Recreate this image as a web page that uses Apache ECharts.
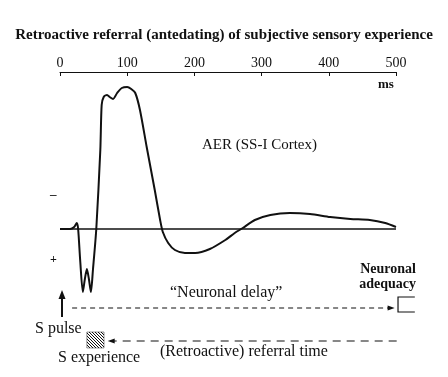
<!DOCTYPE html>
<html><head><meta charset="utf-8">
<script src="https://cdn.jsdelivr.net/npm/echarts@6/dist/echarts.min.js"></script>
<style>html,body{margin:0;padding:0;background:#fff}#c{width:448px;height:377px}</style>
</head><body><div id="c"></div>
<script>
// ---- data ----
const titleText = 'Retroactive referral (antedating) of subjective sensory experience';
const tickLabels = [0, 100, 200, 300, 400, 500];
// AER trace: time (ms) and amplitude (arbitrary units, negative-up)
const aerTime = [0, 15, 21, 25, 27, 30, 34, 37, 40, 43, 46, 49, 54, 60, 62, 65, 70, 74, 79, 85, 92, 100, 106, 112, 119, 129, 141, 149, 153, 161, 171, 186, 201, 223, 246, 260, 272, 290, 313, 342, 372, 402, 432, 461, 484, 500];
const aerAmp  = [0, 0, 2, 6, 0, -31, -63, -50, -40, -50, -63, -41, 0, 79, 124, 132, 134, 132, 130, 136, 141, 142, 140, 136, 119, 82, 39, 9, -3, -14, -21, -24, -24, -20, -11, -4, 1, 9, 14, 16, 15, 12, 10, 9, 6, 2];
const baselineTime = [0, 500];
// annotation times (ms)
const stimulusTime = 3;
const delayArrow = [18, 498];     // "Neuronal delay"
const referralArrow = [501, 71];  // retroactive referral
const adequacyBox = [503, 528];
const experienceBox = [40, 65.5];

const chart = echarts.init(document.getElementById('c'));
const FONT = '"Liberation Serif", "DejaVu Serif", serif';
const black = '#111';

const hatch = document.createElement('canvas');
hatch.width = 3; hatch.height = 3;
const hc = hatch.getContext('2d');
hc.fillStyle = '#fff'; hc.fillRect(0,0,3,3);
hc.fillStyle = '#111';
for (let i=0;i<3;i++) hc.fillRect(i,i,1,1);

const aerData = aerTime.map((t,i)=>[t, aerAmp[i]]);

chart.setOption({
  animation: false,
  backgroundColor: '#fff',
  title: {
    text: titleText, left: 'center', top: 23,
    textStyle: {fontFamily: FONT, fontSize: 15, fontWeight: 'bold', color: black}
  },
  grid: {left: 60, right: 52, top: 72, bottom: 5},
  xAxis: {
    type: 'value', position: 'top', min: 0, max: 500, interval: 100,
    axisLine: {show: true, onZero: false, lineStyle: {color: black, width: 1}},
    axisTick: {show: true, inside: true, length: 4, lineStyle: {color: black}},
    axisLabel: {margin: 2, fontFamily: FONT, fontSize: 14, color: black,
      formatter: v => tickLabels.includes(v) ? String(v) : ''},
    splitLine: {show: false}
  },
  yAxis: {type: 'value', min: -143, max: 157, show: false},
  series: [
    {
      type: 'line', data: baselineTime.map(t=>[t,0]), symbol: 'none',
      lineStyle: {color: black, width: 1.3}, silent: true
    },
    {
      type: 'line', data: aerData, symbol: 'none', smooth: 0.25,
      lineStyle: {color: black, width: 2}, silent: true
    }
  ]
});

const P = (x, y) => chart.convertToPixel({gridIndex: 0}, [x, y]);
function arrowHead(tip, dir, len, half) {
  const bx = tip[0] - dir[0]*len, by = tip[1] - dir[1]*len;
  const nx = -dir[1], ny = dir[0];
  return {type: 'polygon', silent: true,
    shape: {points: [tip, [bx + nx*half, by + ny*half], [bx - nx*half, by - ny*half]]},
    style: {fill: black}};
}
function seg(a, b, dash, w) {
  return {type: 'line', silent: true, shape: {x1: a[0], y1: a[1], x2: b[0], y2: b[1]},
    style: {stroke: black, lineWidth: w || 1.2, lineDash: dash || null}};
}

const g = [];
// S pulse arrow
const sp0 = P(stimulusTime, -88), sp1 = P(stimulusTime, -61);
g.push(seg(sp0, [sp1[0], sp1[1] + 6], null, 2));
g.push(arrowHead(sp1, [0, -1], 9, 3.5));
// Neuronal delay arrow
const d0 = P(delayArrow[0], -79), d1 = P(delayArrow[1], -79);
g.push(seg(d0, [d1[0] - 5, d1[1]], [5, 4], 1.2));
g.push(arrowHead(d1, [1, 0], 7, 2.5));
// Referral arrow (right to left)
const r0 = P(referralArrow[0], -112), r1 = P(referralArrow[1], -112);
g.push(seg(r0, [r1[0] + 5, r1[1]], [8, 6], 1.2));
g.push(arrowHead(r1, [-1, 0], 7, 2.5));
// Neuronal adequacy bracket
const a0 = P(adequacyBox[0], -68), a1 = P(adequacyBox[1], -83);
g.push({type: 'polyline', silent: true,
  shape: {points: [[a1[0], a0[1]], [a0[0], a0[1]], [a0[0], a1[1]], [a1[0], a1[1]]]},
  style: {stroke: black, lineWidth: 1.2, fill: null}});
// S experience hatched box
const e0 = P(experienceBox[0], -103), e1 = P(experienceBox[1], -119);
g.push({type: 'rect', silent: true,
  shape: {x: e0[0], y: e0[1], width: e1[0] - e0[0], height: e1[1] - e0[1]},
  style: {fill: {image: hatch, repeat: 'repeat'}, stroke: '#333', lineWidth: 0.5}});

// texts
g.push(
  {type: 'text', left: 378, top: 78, style: {text: 'ms', font: 'bold 13px ' + FONT, fill: black}},
  {type: 'text', left: 202, top: 138, style: {text: 'AER (SS-I Cortex)', font: '15px ' + FONT, fill: black}},
  {type: 'text', left: 50, top: 188, style: {text: '–', font: 'bold 13px ' + FONT, fill: black}},
  {type: 'text', left: 50, top: 254, style: {text: '+', font: 'bold 12px ' + FONT, fill: black}},
  {type: 'text', left: 170, top: 285, style: {text: '\u201CNeuronal delay\u201D', font: '16px ' + FONT, fill: black}},
  {type: 'text', right: 32, top: 262, style: {text: 'Neuronal', font: 'bold 14px ' + FONT, fill: black}},
  {type: 'text', right: 32, top: 277, style: {text: 'adequacy', font: 'bold 14px ' + FONT, fill: black}},
  {type: 'text', left: 35, top: 321, style: {text: 'S pulse', font: '16px ' + FONT, fill: black}},
  {type: 'text', left: 58, top: 350, style: {text: 'S experience', font: '16px ' + FONT, fill: black}},
  {type: 'text', left: 160, top: 344, style: {text: '(Retroactive) referral time', font: '16px ' + FONT, fill: black}}
);
chart.setOption({graphic: g});
</script></body></html>
